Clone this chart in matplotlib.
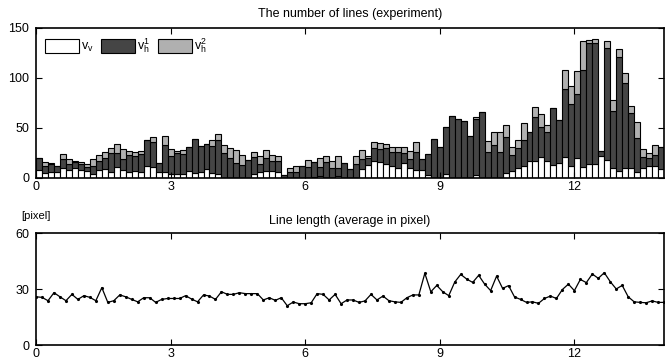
import numpy as np
import matplotlib
matplotlib.use("Agg")
import matplotlib.pyplot as plt

plt.rcParams['font.family'] = ['Liberation Sans', 'DejaVu Sans']
plt.rcParams['font.size'] = 9
plt.rcParams['mathtext.fontset'] = 'custom'
plt.rcParams['mathtext.rm'] = 'Liberation Sans'

# stacked bar tops: white (v_v), top of dark, total
white = [8, 5, 6, 6, 10, 8, 10, 8, 7, 4, 8, 9, 6, 11, 8, 6, 7, 6, 12, 11,
         6, 6, 4, 4, 4, 7, 5, 6, 9, 5, 4, 0, 0, 0, 0, 0, 4, 6, 7, 7,
         6, 0, 0, 0, 0, 0, 1, 2, 0, 0, 2, 0, 0, 0, 9, 13, 17, 16, 14, 12,
         10, 15, 10, 8, 8, 3, 0, 0, 4, 0, 0, 0, 0, 3, 0, 0, 0, 0, 5, 7,
         10, 12, 17, 17, 21, 17, 13, 15, 21, 12, 20, 11, 14, 14, 22, 18, 10, 7, 10, 10,
         6, 10, 12, 12, 9]
dark_top = [20, 12, 14, 12, 19, 14, 16, 14, 11, 12, 17, 20, 25, 25, 19, 23, 22, 24, 38, 36,
            15, 33, 22, 25, 24, 31, 39, 32, 34, 32, 38, 25, 20, 15, 13, 18, 21, 14, 20, 17,
            17, 3, 6, 6, 12, 11, 16, 11, 16, 10, 10, 15, 9, 14, 19, 20, 30, 29, 30, 26,
            26, 25, 19, 26, 19, 24, 39, 31, 51, 62, 59, 57, 42, 59, 66, 26, 33, 26, 41, 23,
            30, 38, 46, 61, 51, 46, 70, 58, 89, 74, 84, 108, 135, 135, 27, 130, 67, 121, 95, 65,
            40, 21, 20, 23, 31]
total = [20, 16, 15, 12, 24, 19, 17, 16, 14, 19, 23, 26, 30, 34, 29, 27, 26, 27, 38, 41,
         15, 42, 29, 27, 28, 31, 39, 32, 34, 38, 44, 33, 30, 28, 23, 18, 26, 22, 28, 23,
         22, 3, 10, 12, 12, 18, 16, 20, 22, 17, 22, 15, 9, 22, 28, 22, 36, 35, 34, 31,
         31, 31, 27, 36, 19, 24, 39, 31, 51, 62, 59, 57, 42, 61, 66, 37, 46, 46, 53, 31,
         38, 55, 46, 71, 64, 53, 70, 58, 108, 92, 107, 137, 138, 139, 27, 137, 78, 129, 105, 72,
         56, 29, 25, 33, 31]

v_v = np.array(white)
v_h1 = np.array(dark_top) - v_v
v_h2 = np.array(total) - np.array(dark_top)

# average line length in pixel
length = [26.0, 25.7, 23.9, 28.2, 26.0, 23.9, 27.3, 24.6, 26.6, 25.7,
          23.9, 30.9, 23.0, 23.9, 27.0, 26.0, 24.6, 23.3, 25.5, 25.5,
          23.0, 24.6, 25.1, 25.1, 25.1, 26.6, 24.8, 23.3, 27.0, 26.4,
          24.6, 28.7, 27.3, 27.3, 28.2, 27.7, 27.7, 27.7, 24.3, 25.5,
          24.1, 25.5, 21.2, 23.2, 22.3, 22.3, 22.8, 27.7, 27.3, 24.3,
          27.3, 22.3, 24.3, 24.3, 23.0, 23.8, 27.3, 24.3, 26.4, 23.9,
          23.3, 23.0, 25.5, 27.0, 27.0, 38.6, 28.7, 32.1, 28.7, 26.6,
          33.9, 38.0, 35.5, 33.7, 37.5, 32.8, 29.3, 37.1, 30.5, 32.0,
          25.9, 24.6, 23.0, 23.3, 22.5, 25.1, 26.4, 25.1, 29.9, 32.8,
          29.3, 35.3, 33.6, 38.2, 35.9, 38.9, 34.1, 30.2, 32.1, 26.0,
          23.3, 23.0, 22.8, 23.8, 23.0, 23.0]

step = 2.0 / 15
x_bar = np.arange(len(total)) * step
x_line = np.arange(len(length)) * step

fig = plt.figure(figsize=(6.71, 3.6), dpi=100)
ax1 = fig.add_axes([0.0537, 0.5056, 0.936, 0.4167])
ax2 = fig.add_axes([0.0537, 0.0408, 0.936, 0.311])

ec = dict(edgecolor='black', linewidth=0.8)
ax1.bar(x_bar, v_v, width=step, align='edge', color='white', label=r'$\mathregular{v_v}$', **ec)
ax1.bar(x_bar, v_h1, width=step, bottom=v_v, align='edge', color='#454545',
        label=r'$\mathregular{v_h^1}$', **ec)
ax1.bar(x_bar, v_h2, width=step, bottom=v_v + v_h1, align='edge', color='#b0b0b0',
        label=r'$\mathregular{v_h^2}$', **ec)
ax1.set_xlim(0, 14)
ax1.set_ylim(0, 150)
ax1.set_xticks([0, 3, 6, 9, 12])
ax1.set_yticks([0, 50, 100, 150])
ax1.set_title('The number of lines (experiment)', fontsize=9, pad=8)
ax1.legend(loc='upper left', bbox_to_anchor=(0.0, 1.0), ncol=3, frameon=False,
           handlelength=2.7, handleheight=1.4, handletextpad=0.2, columnspacing=0.6,
           borderaxespad=0.3, fontsize=9)

ax2.plot(x_line, length, color='black', linewidth=0.9, marker='.', markersize=2.5)
ax2.set_xlim(0, 14)
ax2.set_ylim(0, 60)
ax2.set_xticks([0, 3, 6, 9, 12])
ax2.set_yticks([0, 30, 60])
ax2.set_title('Line length (average in pixel)', fontsize=9, pad=7)
fig.text(0.032, 0.4, '[pixel]', fontsize=8, ha='left', va='center')

for ax in (ax1, ax2):
    ax.tick_params(direction='in', top=True, right=True, length=4, width=0.8,
                   labelsize=9, pad=2)
    ax.tick_params(axis='y', pad=5)
    for s in ax.spines.values():
        s.set_linewidth(1.2)

fig.savefig('out.png', dpi=100)
